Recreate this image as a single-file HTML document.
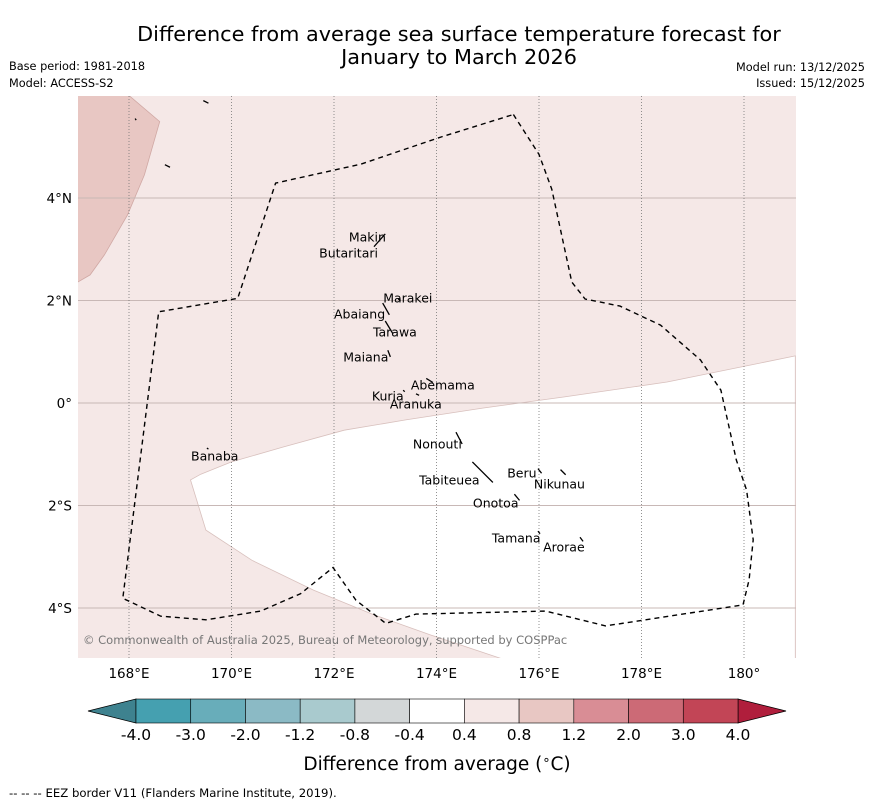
<!DOCTYPE html>
<html><head><meta charset="utf-8">
<style>
body{margin:0;background:#fff;font-family:"DejaVu Sans","Liberation Sans",sans-serif;}
svg text{font-family:"DejaVu Sans","Liberation Sans",sans-serif;}
</style></head>
<body>
<svg id="chart" width="873" height="804" xmlns="http://www.w3.org/2000/svg">
<rect width="873" height="804" fill="#fff"/>
<text x="459" y="41" font-size="20.8" text-anchor="middle">Difference from average sea surface temperature forecast for</text>
<text x="459" y="64" font-size="20.8" text-anchor="middle">January to March 2026</text>
<text x="9" y="70" font-size="11.3">Base period: 1981-2018</text>
<text x="9" y="87" font-size="11.3">Model: ACCESS-S2</text>
<text x="865" y="71" font-size="11.3" text-anchor="end">Model run: 13/12/2025</text>
<text x="865" y="87" font-size="11.3" text-anchor="end">Issued: 15/12/2025</text>
<defs><clipPath id="mapclip"><rect x="78" y="96" width="718" height="562"/></clipPath></defs>
<g id="map" clip-path="url(#mapclip)"></g>
<g id="axes"></g>
<g id="cbar"></g>
<text x="437" y="770" font-size="18.5" text-anchor="middle">Difference from average (<tspan font-size="13" dy="-6">∘</tspan><tspan dy="6">C)</tspan></text>
<text x="9" y="797" font-size="11.7">--  --  -- EEZ border V11 (Flanders Marine Institute, 2019).</text>
</svg>
<script>
const lonTicks=[168,170,172,174,176,178,180];
const lonLabels=["168°E","170°E","172°E","174°E","176°E","178°E","180°"];
const latTicks=[4,2,0,-2,-4];
const latLabels=["4°N","2°N","0°","2°S","4°S"];
const cbLevels=["-4.0","-3.0","-2.0","-1.2","-0.8","-0.4","0.4","0.8","1.2","2.0","3.0","4.0"];
const cbColors=["#45a0b0","#68adba","#8bbac5","#a9cace","#d3d7d8","#ffffff","#f5e8e7","#e8c7c3","#d98d95","#cc6a76","#c24556"];
const whiteRegion=[[181,0.92],[178.5,0.41],[176.5,0.12],[174.9,-0.1],[173.4,-0.33],[172.2,-0.53],[171.0,-0.86],[170.0,-1.15],[169.4,-1.39],[169.2,-1.5],[169.5,-2.48],[170.4,-3.07],[171.6,-3.65],[172.8,-4.14],[173.9,-4.53],[175.9,-5.2],[181,-5.2]];
const warmRegion=[[166.9,6],[168.0,6],[168.6,5.49],[168.3,4.45],[167.97,3.67],[167.52,2.89],[167.24,2.5],[166.9,2.3]];
const eez=[[175.5,5.63],[176.0,4.85],[176.25,4.17],[176.64,2.36],[176.9,2.03],[177.58,1.89],[178.37,1.52],[179.15,0.84],[179.55,0.25],[179.85,-1.11],[180.05,-1.7],[180.18,-2.67],[180.1,-3.45],[179.98,-3.94],[177.3,-4.35],[176.13,-4.06],[173.6,-4.12],[173.01,-4.3],[172.43,-3.85],[171.98,-3.21],[171.35,-3.72],[170.57,-4.06],[169.5,-4.23],[168.62,-4.16],[167.88,-3.81],[168.58,1.78],[170.12,2.04],[170.86,4.29],[172.52,4.66],[174.09,5.19],[175.5,5.63]];
const islands=[["Makin",172.29,3.24],["Butaritari",171.71,2.93],["Marakei",172.96,2.05],["Abaiang",172.0,1.74],["Tarawa",172.76,1.39],["Maiana",172.18,0.90],["Abemama",173.50,0.35],["Kuria",172.74,0.14],["Aranuka",173.09,-0.02],["Nonouti",173.54,-0.80],["Tabiteuea",173.66,-1.50],["Beru",175.38,-1.37],["Nikunau",175.90,-1.58],["Onotoa",174.71,-1.95],["Tamana",175.08,-2.63],["Arorae",176.08,-2.81],["Banaba",169.21,-1.03]];
const atolls=[[172.78,3.05,173.0,3.3],[173.25,2.03,173.3,2.0],[172.95,1.95,173.08,1.72],[173.0,1.6,173.15,1.35],[173.05,1.03,173.1,0.9],[173.8,0.48,173.93,0.4],[173.35,0.25,173.38,0.22],[173.6,0.18,173.66,0.15],[174.38,-0.57,174.5,-0.8],[174.7,-1.15,175.1,-1.55],[175.98,-1.28,176.05,-1.37],[176.42,-1.3,176.52,-1.4],[175.52,-1.78,175.62,-1.9],[175.98,-2.5,176.02,-2.55],[176.8,-2.62,176.86,-2.7],[169.52,-0.88,169.55,-0.9],[169.45,5.9,169.55,5.85],[168.12,5.55,168.14,5.52],[168.7,4.65,168.8,4.6]];
const X=lon=>129+(lon-168)*51.25;
const Y=lat=>403-lat*51.25;
const NS="http://www.w3.org/2000/svg";
function mk(tag,attrs,parent){const e=document.createElementNS(NS,tag);for(const k in attrs)e.setAttribute(k,attrs[k]);parent.appendChild(e);return e;}
const pts=a=>a.map(p=>X(p[0]).toFixed(1)+","+Y(p[1]).toFixed(1)).join(" ");
const map=document.getElementById("map");
let bg=mk("rect",{x:78,y:96,width:718,height:562,fill:"#f5e8e7"},map);


let w=mk("polygon",{points:pts(whiteRegion),fill:"#ffffff",stroke:"#d8c0bd","stroke-width":0.8},map);


let wr=mk("polygon",{points:pts(warmRegion),fill:"#e8c7c3",stroke:"#d0a8a4","stroke-width":0.8},map);


latTicks.forEach(l=>{let g=mk("line",{x1:78,x2:796,y1:Y(l),y2:Y(l),stroke:"#c8b8b6","stroke-width":1},map);

});
lonTicks.forEach(l=>{let g=mk("line",{x1:X(l),x2:X(l),y1:96,y2:658,stroke:"#777","stroke-width":0.8,"stroke-dasharray":"1,2"},map);

});
let e=mk("polyline",{points:pts(eez),fill:"none",stroke:"#000","stroke-width":1.4,"stroke-dasharray":"5,4"},map);


atolls.forEach(a=>{let l=mk("line",{x1:X(a[0]),y1:Y(a[1]),x2:X(a[2]),y2:Y(a[3]),stroke:"#000","stroke-width":1.3},map);

});
islands.forEach(d=>{let t=mk("text",{x:X(d[1]),y:Y(d[2])+4.5,"font-size":12.5},map);t.textContent=d[0];

});
let c=mk("text",{x:83,y:644,"font-size":11.5,fill:"#777"},map);c.textContent="© Commonwealth of Australia 2025, Bureau of Meteorology, supported by COSPPac";


const ax=document.getElementById("axes");
lonTicks.forEach((l,i)=>{let t=mk("text",{x:X(l),y:678,"font-size":13.5,"text-anchor":"middle"},ax);t.textContent=lonLabels[i];

});
latTicks.forEach((l,i)=>{let t=mk("text",{x:72,y:Y(l)+5,"font-size":13.5,"text-anchor":"end"},ax);t.textContent=latLabels[i];

});
const cb=document.getElementById("cbar");
const cx0=136,cx1=738,cy0=699,cy1=723,sw=(cx1-cx0)/cbColors.length;
let tl=mk("polygon",{points:`${cx0},${cy0} 88,${(cy0+cy1)/2} ${cx0},${cy1}`,fill:"#3e828f",stroke:"#000","stroke-width":0.8},cb);


let tr=mk("polygon",{points:`${cx1},${cy0} 786,${(cy0+cy1)/2} ${cx1},${cy1}`,fill:"#b01e3c",stroke:"#000","stroke-width":0.8},cb);


cbColors.forEach((col,i)=>{let r=mk("rect",{x:cx0+i*sw,y:cy0,width:sw,height:cy1-cy0,fill:col,stroke:"#000","stroke-width":0.6},cb);

});
cbLevels.forEach((lv,i)=>{let t=mk("text",{x:cx0+i*sw,y:740,"font-size":15.5,"text-anchor":"middle"},cb);t.textContent=lv;

});
</script>
</body></html>
